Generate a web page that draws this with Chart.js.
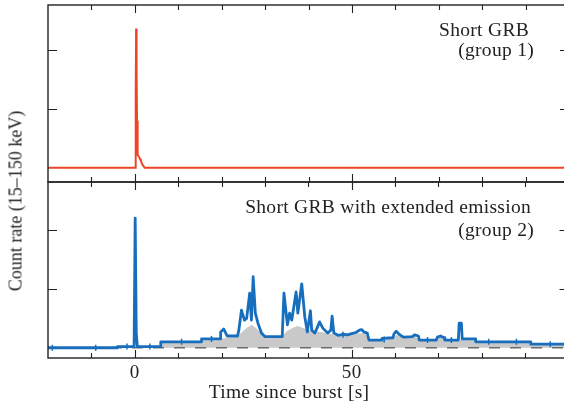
<!DOCTYPE html>
<html>
<head>
<meta charset="utf-8">
<script src="https://cdn.jsdelivr.net/npm/chart.js@4.4.0/dist/chart.umd.min.js"></script>
<style>
  html, body { margin: 0; padding: 0; background: #fff; overflow: hidden; }
  #wrap { position: relative; width: 564px; height: 406px; overflow: hidden; }
  canvas { position: absolute; left: 0; }
  #ytitle {
    position: absolute; left: 16px; top: 201px;
    transform: translate(-50%, -50%) rotate(-90deg);
    white-space: nowrap; font: 18px "Liberation Serif", serif; color: #222;
  }
</style>
</head>
<body>
<div id="wrap">
  <canvas id="topChart" width="574" height="190" style="top:0px"></canvas>
  <canvas id="bottomChart" width="574" height="236" style="top:170px"></canvas>
  <div id="ytitle">Count rate (15–150 keV)</div>
</div>
<script>
// time axis
const xMin = -20, xMax = 100;
const xTicks = [-10, 0, 10, 20, 30, 40, 50, 60, 70, 80, 90];
const xLabels = [0, 50];
const yTicks = [1, 2];

// group 1: short GRB (red)
const topTime = [-20, 0.1, 0.2, 0.3, 0.4, 0.5, 0.6, 0.7, 0.8, 1.0, 1.2, 1.4, 1.6, 1.8, 2.0, 2.3, 100];
const topRate = [0, 0, 1.2, 2.36, 1.7, 0.8, 0.35, 0.22, 0.2, 0.18, 0.15, 0.12, 0.08, 0.05, 0.03, 0, 0];

// group 2: short GRB with extended emission (blue light curve)
const blueTime = [-20, -4, -4, -0.15, 0.1, 0.35, 0.6, 6, 6, 15.4, 15.4, 19.8, 19.8, 20.5, 21.3, 23.7,
  24.0, 24.6, 25.3, 25.8, 26.5, 26.9, 27.3, 27.8, 28.4, 29.2, 30.0, 34.0, 34.4, 35.2, 35.7, 36.2, 37.2,
  37.6, 38.5, 39.2, 39.8, 40.5, 40.8, 41.5, 42.0, 42.6, 43.4, 44.5, 45.2, 45.5, 45.9, 47.0, 48.0, 49.0,
  50.0, 51.0, 51.8, 52.3, 52.8, 53.6, 54.0, 57.0, 57.0, 59.5, 59.8, 60.3, 60.8, 61.5, 62.0, 64.0, 64.5,
  65.4, 65.6, 69.5, 69.8, 70.5, 71.3, 71.5, 74.6, 74.8, 75.3, 75.5, 78.6, 78.6, 91.3, 91.3, 100];
const blueRate = [0, 0, 0.02, 0.02, 2.21, 0.25, 0.02, 0.02, 0.1, 0.1, 0.15, 0.15, 0.27, 0.32, 0.2, 0.2,
  0.3, 0.64, 0.47, 0.5, 0.93, 0.47, 1.21, 0.59, 0.42, 0.25, 0.19, 0.19, 0.93, 0.39, 0.59, 0.47, 0.95,
  0.59, 1.09, 0.53, 0.27, 0.63, 0.3, 0.25, 0.33, 0.44, 0.33, 0.25, 0.3, 0.54, 0.25, 0.21, 0.23, 0.22,
  0.24, 0.26, 0.3, 0.31, 0.27, 0.25, 0.13, 0.13, 0.16, 0.17, 0.24, 0.28, 0.24, 0.2, 0.18, 0.19, 0.22,
  0.2, 0.13, 0.13, 0.18, 0.2, 0.17, 0.13, 0.13, 0.42, 0.42, 0.15, 0.15, 0.1, 0.1, 0.06, 0.06];

// smoothed extended-emission level (grey area)
const smoothTime = [-20, 6, 6, 15.4, 15.4, 19.8, 21, 23.5, 24.5, 26, 27, 28, 29.5, 31, 33.8, 35, 36.5,
  37.5, 39, 41, 43, 45, 47, 49, 51, 53, 54, 57, 57, 59.5, 60.5, 62, 64.5, 65.6, 69.5, 70.5, 71.5,
  74.8, 75.5, 78.6, 78.6, 91.3, 91.3, 100];
const smoothRate = [0, 0, 0.1, 0.1, 0.15, 0.15, 0.17, 0.18, 0.25, 0.35, 0.39, 0.33, 0.22, 0.18, 0.18, 0.28, 0.34,
  0.37, 0.33, 0.28, 0.27, 0.24, 0.21, 0.22, 0.24, 0.25, 0.13, 0.13, 0.16, 0.17, 0.22, 0.18, 0.2, 0.13, 0.13,
  0.18, 0.13, 0.13, 0.15, 0.15, 0.1, 0.1, 0.06, 0.06];

// error bars on wide bins
const errTime = [-19, -9, -1.8, 3.5, 10.8, 17.7, 48, 57.5, 67.5, 73, 81.6, 88, 95.8];
const errRate = [0, 0, 0.02, 0.02, 0.1, 0.15, 0.22, 0.14, 0.13, 0.13, 0.1, 0.1, 0.06];

const serif = '"Liberation Serif", serif';

function pts(xs, ys) {
  return xs.map((x, i) => ({ x: x, y: ys[i] }));
}

// frame, inward ticks and text for one panel
function framePlugin(texts) {
  return {
    id: 'frame',
    afterDraw(chart) {
      const ctx = chart.ctx, a = chart.chartArea;
      const sx = chart.scales.x, sy = chart.scales.y;
      ctx.save();
      ctx.strokeStyle = '#222';
      ctx.lineWidth = 1.4;
      ctx.strokeRect(a.left, a.top, a.right - a.left, a.bottom - a.top);
      ctx.lineWidth = 1.1;
      ctx.beginPath();
      xTicks.forEach(v => {
        const px = Math.round(sx.getPixelForValue(v)) + 0.5;
        const len = xLabels.includes(v) ? 8 : 5;
        ctx.moveTo(px, a.top); ctx.lineTo(px, a.top + len);
        ctx.moveTo(px, a.bottom); ctx.lineTo(px, a.bottom - len);
      });
      yTicks.forEach(v => {
        const py = Math.round(sy.getPixelForValue(v)) + 0.5;
        ctx.moveTo(a.left, py); ctx.lineTo(a.left + 9, py);
        ctx.moveTo(a.right, py); ctx.lineTo(a.right - 9, py);
      });
      ctx.stroke();
      ctx.fillStyle = '#222';
      ctx.letterSpacing = '0.3px';
      texts.forEach(t => {
        ctx.font = t.size + 'px ' + serif;
        ctx.textAlign = t.align;
        ctx.textBaseline = 'alphabetic';
        const x = t.value !== undefined ? sx.getPixelForValue(t.value) : t.x;
        ctx.fillText(t.text, x, t.y);
      });
      ctx.restore();
    }
  };
}

function baseOptions(pad, yMin, yMax) {
  return {
    responsive: false,
    animation: false,
    events: [],
    layout: { padding: pad },
    plugins: { legend: { display: false }, tooltip: { enabled: false } },
    scales: {
      x: { type: 'linear', min: xMin, max: xMax, display: false },
      y: { type: 'linear', min: yMin, max: yMax, display: false }
    }
  };
}

new Chart(document.getElementById('topChart'), {
  type: 'line',
  data: {
    datasets: [{
      data: pts(topTime, topRate),
      borderColor: '#ee4526',
      borderWidth: 2,
      pointRadius: 0,
      tension: 0
    }]
  },
  options: baseOptions({ left: 48, right: 5, top: 5, bottom: 8 }, -0.24, 2.76),
  plugins: [framePlugin([
    { text: 'Short GRB', x: 529, y: 36, size: 19.5, align: 'right' },
    { text: '(group 1)', x: 534, y: 56, size: 19.5, align: 'right' }
  ])]
});

// bottom canvas starts at page y = 170
new Chart(document.getElementById('bottomChart'), {
  type: 'line',
  data: {
    datasets: [
      {
        data: pts(blueTime, blueRate),
        borderColor: '#176ebd',
        borderWidth: 2.8,
        borderJoinStyle: 'round',
        pointRadius: 0,
        tension: 0
      },
      {
        data: pts(errTime, errRate),
        showLine: false,
        pointStyle: 'line',
        rotation: 90,
        pointRadius: 3,
        borderColor: '#176ebd',
        borderWidth: 1.5
      },
      {
        data: pts([xMin, xMax], [0, 0]),
        borderColor: '#6b6b6b',
        borderWidth: 1.5,
        borderDash: [11, 10],
        pointRadius: 0
      },
      {
        data: pts(smoothTime, smoothRate),
        borderWidth: 0,
        backgroundColor: '#c9c9c9',
        fill: 'origin',
        pointRadius: 0,
        tension: 0
      }
    ]
  },
  options: baseOptions({ left: 48, right: 5, top: 12, bottom: 48 }, -0.175, 2.825),
  plugins: [framePlugin([
    { text: 'Short GRB with extended emission', x: 531, y: 43, size: 19.5, align: 'right' },
    { text: '(group 2)', x: 534, y: 66, size: 19.5, align: 'right' },
    { text: String(xLabels[0]), value: xLabels[0], y: 208, size: 19, align: 'center' },
    { text: String(xLabels[1]), value: xLabels[1], y: 208, size: 19, align: 'center' },
    { text: 'Time since burst [s]', x: 289, y: 228, size: 19.5, align: 'center' }
  ])]
});
</script>
</body>
</html>
